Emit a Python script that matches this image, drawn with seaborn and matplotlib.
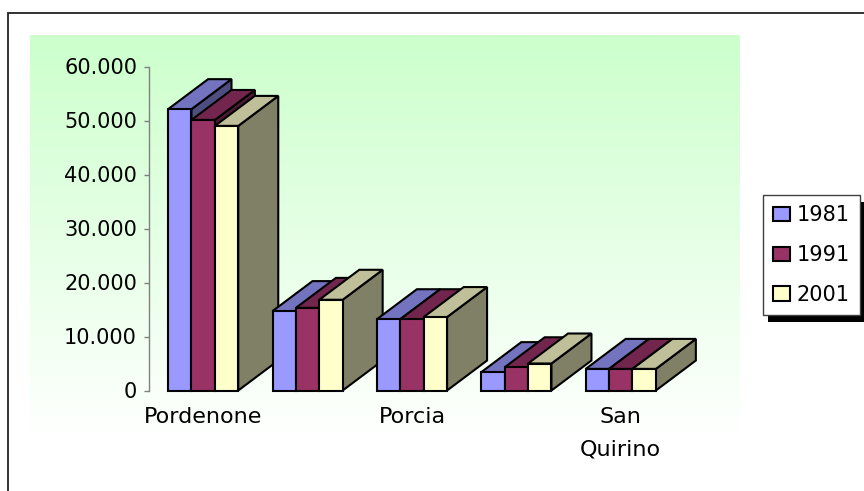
import numpy as np
import pandas as pd
import matplotlib
matplotlib.use("Agg")
import matplotlib.pyplot as plt
from matplotlib.patches import Polygon, Rectangle
from matplotlib.colors import to_rgb
import seaborn as sns

# Resident population per municipality at three census years
tick_labels = ["Pordenone", "", "Porcia", "", "San\nQuirino"]
years = ["1981", "1991", "2001"]
pop_1981 = [52100, 14700, 13200, 3400, 4000]
pop_1991 = [50100, 15300, 13200, 4300, 4000]
pop_2001 = [49000, 16800, 13600, 5000, 4000]
y_ticks = [0, 10000, 20000, 30000, 40000, 50000, 60000]
palette = {"1981": "#9999FF", "1991": "#993366", "2001": "#FFFFCC"}

rows = []
for year, series in zip(years, [pop_1981, pop_1991, pop_2001]):
    for pos, val in enumerate(series):
        rows.append({"pos": pos, "year": year, "pop": val})
df = pd.DataFrame(rows)

plt.rcParams["font.family"] = ["DejaVu Sans"]

W, H = 864, 491
fig = plt.figure(figsize=(W / 100, H / 100), dpi=100)

# light green gradient behind the plot area
bg = fig.add_axes([30 / W, 1 - 440 / H, (740 - 30) / W, (440 - 35) / H], zorder=-2)
t = np.linspace(0, 1, 256)[:, None]
top_c = np.array([204, 255, 204]) / 255
img = (1 - t)[..., None] * top_c + t[..., None] * np.ones(3)
bg.imshow(img, aspect="auto", extent=(0, 1, 0, 1))
bg.axis("off")

# outer chart frame
fig.add_artist(Rectangle((8 / W, -0.1), 1.2, 1 - 13 / H + 0.1,
                         transform=fig.transFigure, fill=False,
                         ec="#222222", lw=1.3, zorder=-1))

# main value axes
x_left, x_right = -0.519, 4.6
ax_left_px, ax_bottom_px, ax_top_px = 149, 390.5, 66.5
px_per_cat = 104.4
ax_right_px = ax_left_px + (x_right - x_left) * px_per_cat
ax = fig.add_axes([ax_left_px / W, 1 - ax_bottom_px / H,
                   (ax_right_px - ax_left_px) / W, (ax_bottom_px - ax_top_px) / H])
ax.set_facecolor("none")

sns.barplot(data=df, x="pos", y="pop", hue="year", hue_order=years,
            palette=palette, saturation=1, width=0.672,
            edgecolor="black", linewidth=1.5, ax=ax)

ax.set_xlim(x_left, x_right)
ax.set_ylim(0, 60000)
ax.set_xlabel("")
ax.set_ylabel("")
ax.grid(False)
for side in ["top", "right", "bottom"]:
    ax.spines[side].set_visible(False)
ax.spines["left"].set_color("#808080")
ax.spines["left"].set_linewidth(1.0)

ax.set_yticks(y_ticks)
ax.set_yticklabels([f"{v:,}".replace(",", ".") for v in y_ticks])
ax.tick_params(axis="y", length=3.6, width=1, color="#808080", pad=5,
               labelsize=15, labelcolor="black")
ax.set_xticks(range(len(tick_labels)))
ax.set_xticklabels(tick_labels, linespacing=1.8)
ax.tick_params(axis="x", length=0, pad=12, labelsize=16, labelcolor="black")

# depth offset of the 3D boxes, converted from pixels to data units
p0 = ax.transData.transform((0, 0))
dx, dy = ax.transData.inverted().transform(p0 + np.array([40, 30]))

bars = sorted([p for p in ax.patches if p.get_height() > 0], key=lambda p: p.get_x())
for k, p in enumerate(bars):
    x0, w, h = p.get_x(), p.get_width(), p.get_height()
    rgb = np.array(to_rgb(p.get_facecolor()))
    z = 2 + k * 0.01
    side = Polygon([(x0 + w, 0), (x0 + w, h), (x0 + w + dx, h + dy), (x0 + w + dx, dy)],
                   closed=True, fc=rgb * 0.5, ec="black", lw=1.5, zorder=z, clip_on=False)
    top = Polygon([(x0, h), (x0 + w, h), (x0 + w + dx, h + dy), (x0 + dx, h + dy)],
                  closed=True, fc=rgb * 0.75, ec="black", lw=1.5, zorder=z + 0.002, clip_on=False)
    ax.add_patch(side)
    ax.add_patch(top)
    p.set_zorder(z + 0.004)
    p.set_clip_on(False)

sns.move_legend(ax, "upper left", bbox_to_anchor=(763 / W, 1 - 195 / H),
                bbox_transform=fig.transFigure, title=None, frameon=True,
                fontsize=15, handlelength=0.8, handleheight=0.7,
                handletextpad=0.3, labelspacing=0.95, borderpad=0.5,
                borderaxespad=0, fancybox=False, edgecolor="#404040",
                framealpha=1)
leg = ax.get_legend()
leg.get_frame().set_linewidth(1.0)

fig.canvas.draw()
bb = leg.get_frame().get_window_extent()
fig.add_artist(Rectangle((bb.x0 + 5, bb.y0 - 7), bb.width, bb.height,
                         transform=None, fc="black", ec="none", zorder=-0.5))

fig.savefig("out.png", dpi=100)
